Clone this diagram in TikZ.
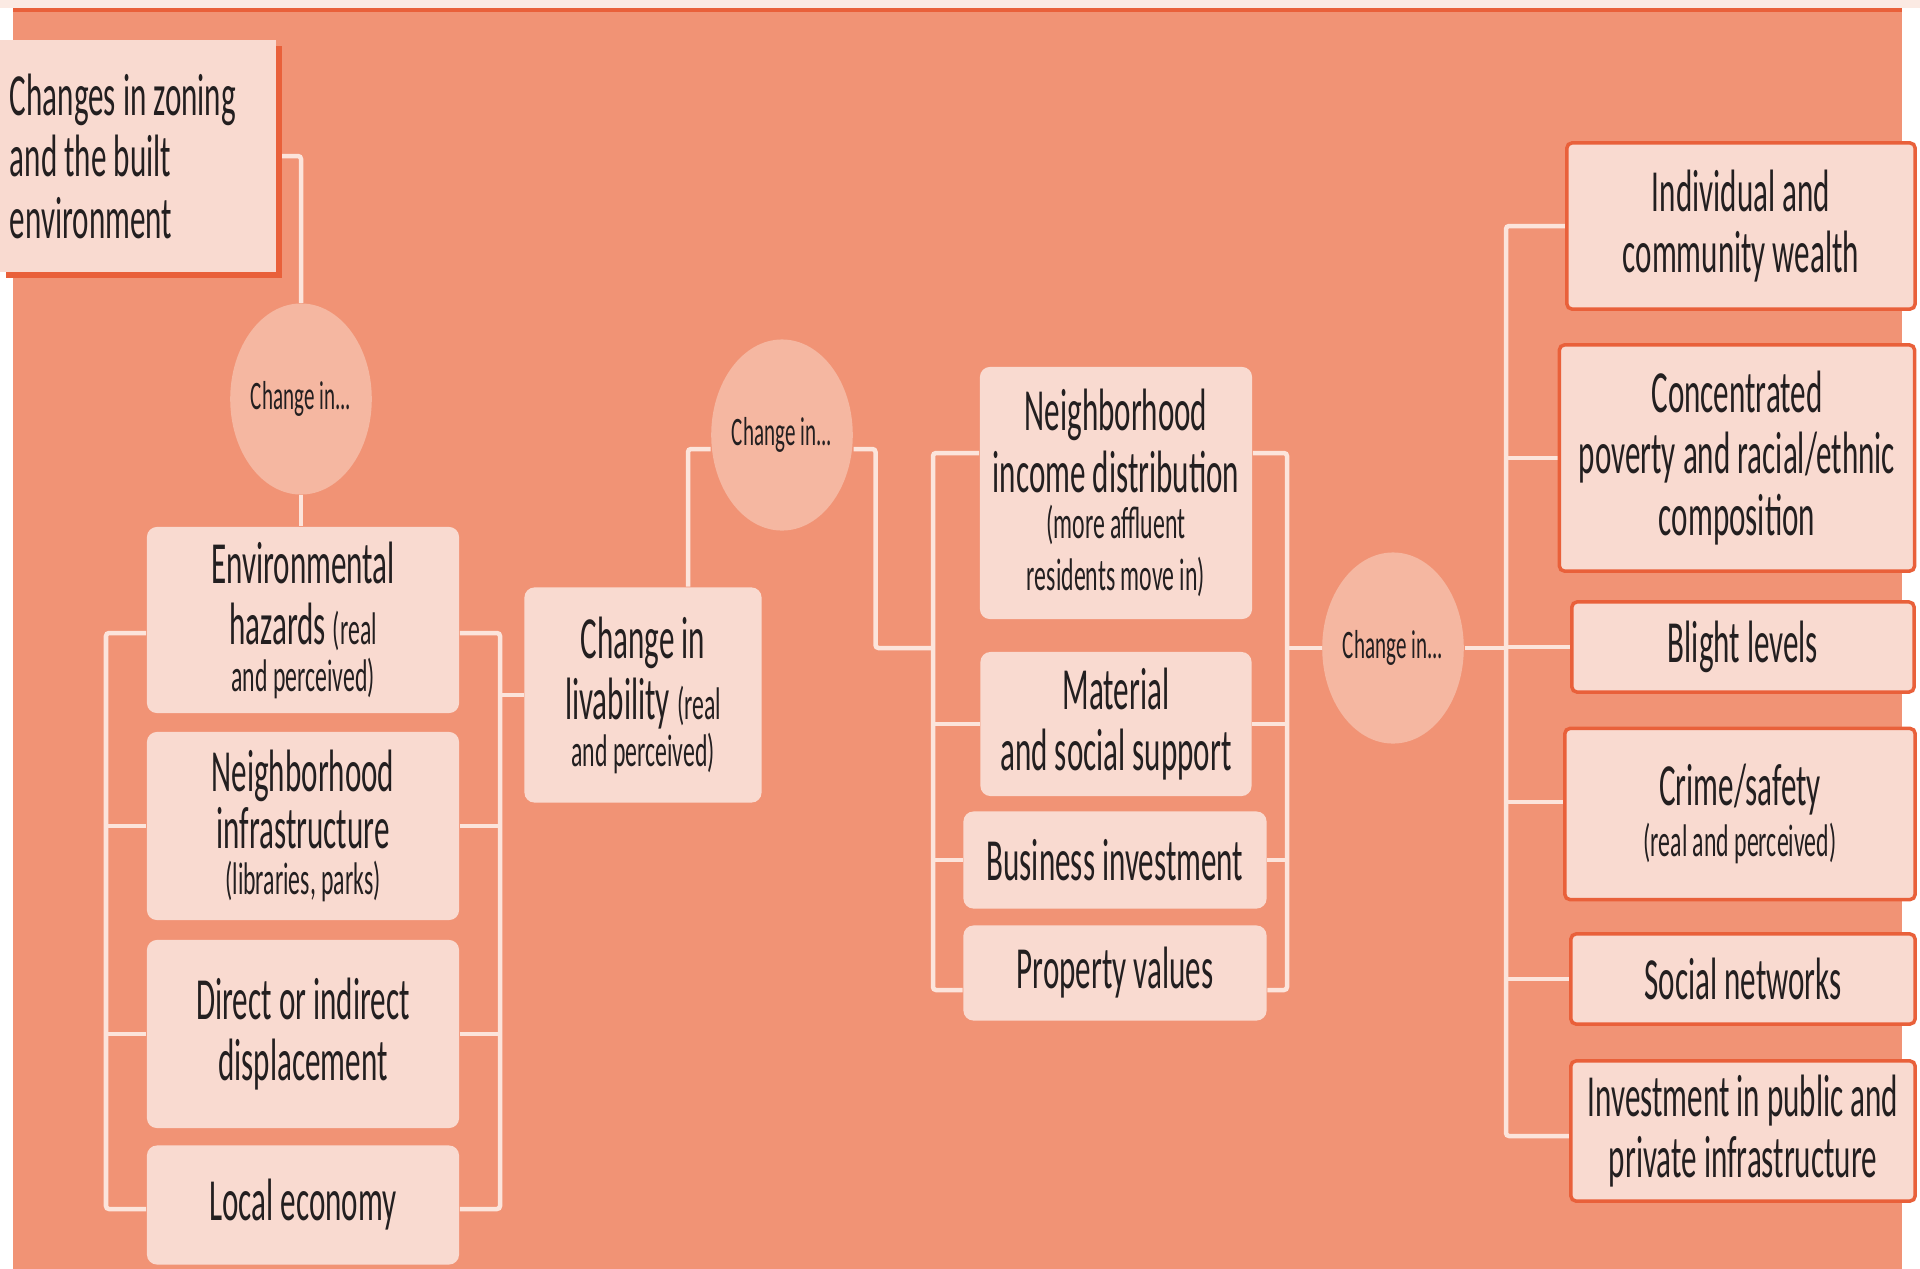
\documentclass[tikz,border=0pt]{standalone}
\usepackage{fontspec}
\setmainfont{Carlito}[FakeStretch=0.52]
\usetikzlibrary{shapes,positioning,backgrounds,shadows}

\definecolor{pageband}{HTML}{FBEAE3}
\definecolor{edge}{HTML}{E9603A}
\definecolor{salmon}{HTML}{F19375}
\definecolor{boxfill}{HTML}{F9DAD0}
\definecolor{bubblefill}{HTML}{F5B7A1}
\definecolor{linkc}{HTML}{FCE4DB}
\definecolor{ink}{HTML}{231F20}

\newcommand{\smalltxt}{\fontsize{13}{14}\selectfont}

\begin{document}
\begin{tikzpicture}[x=0.01cm, y=-0.01cm]
    \tikzstyle{panel}   = [fill=boxfill, rounded corners=0.1cm, align=center, text=ink, font=\fontsize{17}{17.5}\selectfont, inner sep=0pt]
    \tikzstyle{outcome} = [panel, draw=edge, line width=0.035cm, rounded corners=0.05cm]
    \tikzstyle{bubble}  = [ellipse, fill=bubblefill, minimum width=1.34cm, minimum height=1.91cm, inner sep=0pt, text=ink, font=\fontsize{11.5}{12}\selectfont]
    \tikzstyle{link}    = [draw=linkc, line width=0.045cm, rounded corners=0.03cm]

    \useasboundingbox (0,0) rectangle (1920,1269);

    % Starting point
    \node [panel, rounded corners=0pt, align=flush left, text width=2.56cm, inner xsep=0.1cm, minimum height=2.32cm,
           drop shadow={shadow xshift=0.06cm, shadow yshift=-0.06cm, fill=edge, opacity=1}]
        (zoning) at (138,156) {Changes in zoning\\and the built\\environment};

    % Change in... bubbles
    \node [bubble] (c1) at (301,399) {Change in...};
    \node [bubble] (c2) at (782,435) {Change in...};
    \node [bubble] (c3) at (1393,648) {Change in...};

    % First column
    \node [panel, minimum width=3.12cm, minimum height=1.86cm] (env) at (303,620)
        {Environmental\\hazards {\smalltxt (real}\\[-0.15cm]{\smalltxt and perceived)}};
    \node [panel, minimum width=3.12cm, minimum height=1.88cm] (infra) at (303,826)
        {Neighborhood\\[-0.05cm]infrastructure\\[-0.15cm]{\smalltxt (libraries, parks)}};
    \node [panel, minimum width=3.12cm, minimum height=1.88cm] (displ) at (303,1034)
        {Direct or indirect\\displacement};
    \node [panel, minimum width=3.12cm, minimum height=1.19cm] (local) at (303,1205) {Local economy};

    % Livability
    \node [panel, minimum width=2.37cm, minimum height=2.15cm] (live) at (643,695)
        {Change in\\livability {\smalltxt (real}\\[-0.15cm]{\smalltxt and perceived)}};

    % Second column
    \node [panel, minimum width=2.72cm, minimum height=2.52cm] (income) at (1116,493)
        {Neighborhood\\income distribution\\[-0.15cm]{\smalltxt (more affluent}\\[-0.1cm]{\smalltxt residents move in)}};
    \node [panel, minimum width=2.71cm, minimum height=1.44cm] (material) at (1116,724)
        {Material\\and social support};
    \node [panel, minimum width=3.03cm, minimum height=0.97cm] (business) at (1115,860) {Business investment};
    \node [panel, minimum width=3.03cm, minimum height=0.95cm] (prop) at (1115,973) {Property values};

    % Outcomes
    \node [outcome, minimum width=3.48cm, minimum height=1.66cm] (wealth) at (1741,226)
        {Individual and\\community wealth};
    \node [outcome, minimum width=3.55cm, minimum height=2.26cm] (conc) at (1737,458)
        {Concentrated\\poverty and racial/ethnic\\composition};
    \node [outcome, minimum width=3.42cm, minimum height=0.90cm] (blight) at (1743,647) {Blight levels};
    \node [outcome, minimum width=3.50cm, minimum height=1.71cm] (crime) at (1740,814)
        {Crime/safety\\[-0.1cm]{\smalltxt (real and perceived)}};
    \node [outcome, minimum width=3.44cm, minimum height=0.90cm] (social) at (1743,979) {Social networks};
    \node [outcome, minimum width=3.44cm, minimum height=1.40cm] (invest) at (1743,1131)
        {Investment in public and\\private infrastructure};

    % Bracket corners
    \coordinate (lbt) at (106,633);
    \coordinate (lbb) at (106,1209);
    \coordinate (rbt) at (500,633);
    \coordinate (rbb) at (500,1209);
    \coordinate (mlt) at (933,453);
    \coordinate (mlb) at (933,990);
    \coordinate (mrt) at (1287,453);
    \coordinate (mrb) at (1287,990);
    \coordinate (ort) at (1506,226);
    \coordinate (orb) at (1506,1136);
    \coordinate (crimestub) at (1506,802);

    \begin{pgfonlayer}{background}
        \fill [pageband] (0,0) rectangle (1920,8);
        \fill [edge] (13,8) rectangle (1902,12);
        \fill [salmon] (13,12) rectangle (1902,1269);

        % Connections
        \draw [link] (zoning.east) -| (c1.north);
        \draw [link] (c1.south) -- (c1 |- env.north);

        \draw [link] (env.west |- lbt) -- (lbt) -- (lbb) -- (local.west |- lbb);
        \draw [link] (infra.west) -- (lbt |- infra.west);
        \draw [link] (displ.west) -- (lbt |- displ.west);
        \draw [link] (env.east |- rbt) -- (rbt) -- (rbb) -- (local.east |- rbb);
        \draw [link] (infra.east) -- (rbt |- infra.east);
        \draw [link] (displ.east) -- (rbt |- displ.east);
        \draw [link] (rbt |- live.west) -- (live.west);

        \draw [link] ([xshift=0.45cm]live.north) |- ([yshift=-0.14cm]c2.west);
        \draw [link] ([yshift=-0.14cm]c2.east) -- ++(22,0) |- (mlt |- c3.west);

        \draw [link] (income.west |- mlt) -- (mlt) -- (mlb) -- (prop.west |- mlb);
        \draw [link] (material.west) -- (mlt |- material.west);
        \draw [link] (business.west) -- (mlt |- business.west);
        \draw [link] (income.east |- mrt) -- (mrt) -- (mrb) -- (prop.east |- mrb);
        \draw [link] (material.east) -- (mrt |- material.east);
        \draw [link] (business.east) -- (mrt |- business.east);
        \draw [link] (mrt |- c3.west) -- (c3.west);

        \draw [link] (c3.east) -- (ort |- c3.east);
        \draw [link] (wealth.west) -- (ort) -- (orb) -- (invest.west |- orb);
        \draw [link] (conc.west) -- (ort |- conc.west);
        \draw [link] (blight.west) -- (ort |- blight.west);
        \draw [link] (crimestub) -- (crime.west |- crimestub);
        \draw [link] (social.west) -- (ort |- social.west);
    \end{pgfonlayer}
\end{tikzpicture}
\end{document}
